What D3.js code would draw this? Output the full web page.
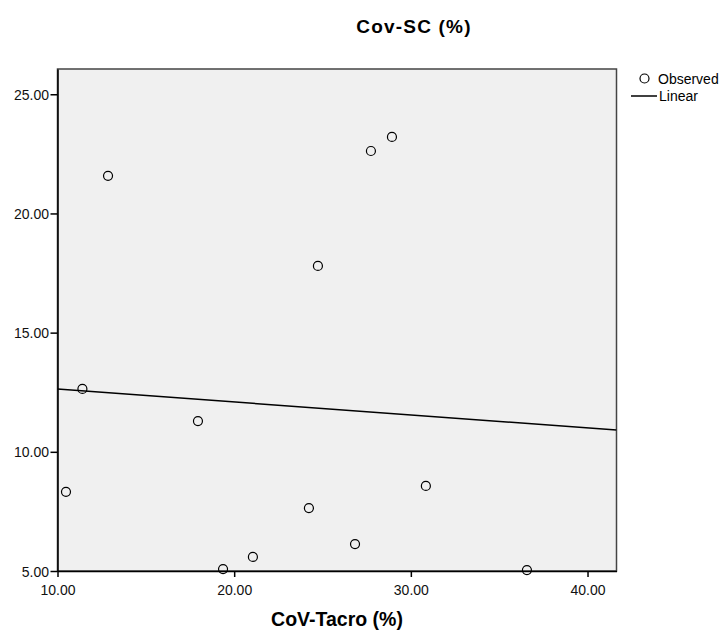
<!DOCTYPE html>
<html>
<head>
<meta charset="utf-8">
<script src="https://cdn.jsdelivr.net/npm/d3@7"></script>
<style>
body { margin: 0; background: #fff; }
text { font-family: Arial, "Liberation Sans", sans-serif; }
</style>
</head>
<body>
<script>
var tacro = [12.86, 11.41, 10.48, 17.95, 19.37, 21.06, 24.23, 24.74, 27.74, 28.93, 26.84, 30.85, 36.57];
var sc    = [21.58, 12.64, 8.32, 11.29, 5.08, 5.59, 7.64, 17.80, 22.62, 23.21, 6.13, 8.57, 5.04];
// linear fit line (intercept, slope)
var fit = [13.18, -0.0544];
var xTicks = [10, 20, 30, 40];
var yTicks = [5, 10, 15, 20, 25];

var W = 724, H = 633;
var svg = d3.select("body").append("svg").attr("width", W).attr("height", H);

var pL = 57.5, pR = 616.5, pT = 69, pB = 571;
var x = d3.scaleLinear().domain([10, 41.64]).range([pL, pR]);
var y = d3.scaleLinear().domain([5, 26.06]).range([pB, pT]);

svg.append("rect")
  .attr("x", pL).attr("y", pT)
  .attr("width", pR - pL).attr("height", pB - pT)
  .attr("fill", "#f0f0f0").attr("stroke", "#444").attr("stroke-width", 1.5);

svg.append("clipPath").attr("id", "clip")
  .append("rect").attr("x", pL).attr("y", pT).attr("width", pR - pL).attr("height", pB - pT);

var xAxis = svg.append("g").attr("transform", "translate(0," + pB + ")")
  .call(d3.axisBottom(x).tickValues(xTicks).tickFormat(d3.format(".2f")).tickSize(6).tickSizeOuter(0));
var yAxis = svg.append("g").attr("transform", "translate(" + pL + ",0)")
  .call(d3.axisLeft(y).tickValues(yTicks).tickFormat(d3.format(".2f")).tickSize(7).tickSizeOuter(0));

[xAxis, yAxis].forEach(function(a) {
  a.attr("font-size", 14).attr("font-family", "Arial, 'Liberation Sans', sans-serif");
  a.select(".domain").attr("stroke", "#000").attr("stroke-width", 1.5);
  a.selectAll(".tick line").attr("stroke", "#000").attr("stroke-width", 1.5);
  a.selectAll(".tick text").attr("fill", "#111");
});
xAxis.selectAll(".tick text").attr("dy", null).attr("y", 24);
yAxis.selectAll(".tick text").attr("x", -8.5).attr("dy", "0.36em");

var g = svg.append("g").attr("clip-path", "url(#clip)");

g.append("line")
  .attr("x1", x(10)).attr("y1", y(fit[0] + fit[1] * 10))
  .attr("x2", x(41.64)).attr("y2", y(fit[0] + fit[1] * 41.64))
  .attr("stroke", "#000").attr("stroke-width", 1.5);

svg.append("g").selectAll("circle")
  .data(tacro.map(function(d, i) { return [d, sc[i]]; }))
  .enter().append("circle")
  .attr("cx", function(d) { return x(d[0]); })
  .attr("cy", function(d) { return y(d[1]); })
  .attr("r", 4.5)
  .attr("fill", "none").attr("stroke", "#000").attr("stroke-width", 1.2);

// titles
svg.append("text").attr("x", 414).attr("y", 33).attr("text-anchor", "middle")
  .attr("font-size", 19).attr("font-weight", "bold").attr("letter-spacing", 1.2).text("Cov-SC (%)");
svg.append("text").attr("x", (pL + pR) / 2).attr("y", 626).attr("text-anchor", "middle")
  .attr("font-size", 19.5).attr("font-weight", "bold").text("CoV-Tacro (%)");

// legend
var lg = svg.append("g");
lg.append("circle").attr("cx", 644.5).attr("cy", 78.5).attr("r", 4.5)
  .attr("fill", "none").attr("stroke", "#000").attr("stroke-width", 1.2);
lg.append("text").attr("x", 658).attr("y", 84).attr("font-size", 14).text("Observed");
lg.append("line").attr("x1", 631).attr("x2", 657).attr("y1", 96).attr("y2", 96)
  .attr("stroke", "#000").attr("stroke-width", 1.5);
lg.append("text").attr("x", 659).attr("y", 101).attr("font-size", 14).text("Linear");
</script>
</body>
</html>
